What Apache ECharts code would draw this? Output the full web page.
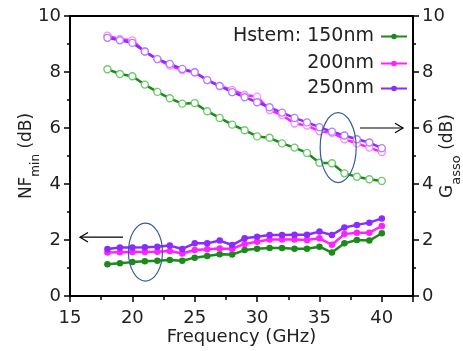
<!DOCTYPE html>
<html>
<head>
<meta charset="utf-8">
<script src="https://cdn.jsdelivr.net/npm/echarts@6/dist/echarts.min.js"></script>
<style>
  html, body { margin: 0; padding: 0; background: #fff; }
  #chart { width: 463px; height: 351px; }
</style>
</head>
<body>
<div id="chart"></div>
<script>
// frequency points (GHz)
const freq = [18, 19, 20, 21, 22, 23, 24, 25, 26, 27, 28, 29, 30, 31, 32, 33, 34, 35, 36, 37, 38, 39, 40]

// NFmin (dB), left axis
const nf150 = [1.13, 1.17, 1.21, 1.24, 1.26, 1.29, 1.26, 1.37, 1.43, 1.49, 1.48, 1.64, 1.69, 1.71, 1.71, 1.69, 1.69, 1.76, 1.55, 1.88, 2.00, 1.98, 2.24]
const nf200 = [1.55, 1.56, 1.57, 1.57, 1.58, 1.61, 1.52, 1.64, 1.67, 1.70, 1.68, 1.86, 1.94, 2.02, 2.02, 2.02, 2.00, 2.06, 1.83, 2.21, 2.26, 2.26, 2.50]
const nf250 = [1.68, 1.73, 1.73, 1.74, 1.76, 1.80, 1.68, 1.88, 1.88, 1.98, 1.82, 2.06, 2.12, 2.18, 2.18, 2.19, 2.19, 2.30, 2.18, 2.45, 2.54, 2.62, 2.77]

// Gasso (dB), right axis
const ga150 = [8.10, 7.93, 7.85, 7.55, 7.29, 7.06, 6.87, 6.89, 6.60, 6.36, 6.12, 5.92, 5.70, 5.65, 5.45, 5.30, 5.11, 4.76, 4.74, 4.38, 4.26, 4.17, 4.11]
const ga200 = [9.30, 9.17, 9.13, 8.73, 8.46, 8.23, 8.07, 7.99, 7.71, 7.50, 7.36, 7.18, 7.12, 6.64, 6.46, 6.16, 6.09, 5.88, 5.83, 5.60, 5.45, 5.30, 5.14]
const ga250 = [9.22, 9.13, 9.04, 8.73, 8.46, 8.29, 8.11, 7.99, 7.71, 7.50, 7.28, 7.10, 6.92, 6.74, 6.55, 6.36, 6.20, 6.03, 5.87, 5.73, 5.60, 5.48, 5.28]

const names = ['Hstem: 150nm', '200nm', '250nm']
const colors = ['#1B8A1B', '#FF22FF', '#8A2BFF']
const lightColors = ['#6CCB6C', '#FF8CFF', '#B47DFF']

const FONT = 'DejaVu Sans'
const pairs = (vals) => freq.map((f, i) => [f, vals[i]])

const chart = echarts.init(document.getElementById('chart'))

const nfSeries = [nf150, nf200, nf250].map((d, i) => ({
  name: names[i],
  type: 'line',
  yAxisIndex: 0,
  data: pairs(d),
  symbol: 'circle',
  symbolSize: 6.5,
  lineStyle: { width: 2.5, color: colors[i] },
  itemStyle: { color: colors[i] },
  z: 3
}))

const gaSeries = [ga150, ga200, ga250].map((d, i) => ({
  name: 'Gasso ' + i,
  type: 'line',
  yAxisIndex: 1,
  data: pairs(d),
  symbol: 'circle',
  symbolSize: 7,
  lineStyle: { width: 2.5, color: colors[i] },
  itemStyle: { color: '#fff', borderColor: lightColors[i], borderWidth: 1.4 },
  z: 3
}))

// one legend per row so the icons line up on the right
const legendTops = [27, 54, 79]
const legends = names.map((n, i) => ({
  data: [n],
  right: 55,
  top: legendTops[i],
  orient: 'vertical',
  align: 'right',
  padding: 0,
  itemWidth: 26,
  itemHeight: 7,
  selectedMode: false,
  textStyle: { fontFamily: FONT, fontSize: 19, color: '#222', padding: [0, 2, 0, 0] }
}))

const axisTextStyle = { fontFamily: FONT, fontSize: 18, color: '#222' }

const yAxisBase = {
  type: 'value',
  min: 0,
  max: 10,
  interval: 2,
  nameLocation: 'middle',
  nameRotate: 90,
  nameMoveOverlap: false,
  axisLine: { show: true, lineStyle: { color: '#000', width: 2 } },
  axisTick: { show: true, inside: false, length: 6, lineStyle: { color: '#000', width: 1.5 } },
  minorTick: { show: true, splitNumber: 2, length: 3, lineStyle: { color: '#000', width: 1.5 } },
  axisLabel: Object.assign({ margin: 9 }, axisTextStyle),
  splitLine: { show: false }
}

const option = {
  animation: false,
  backgroundColor: '#fff',
  grid: {
    left: 70, right: 50, top: 16, bottom: 55,
    outerBoundsMode: 'none',
    show: true, borderColor: '#000', borderWidth: 2, backgroundColor: 'transparent'
  },
  legend: legends,
  xAxis: {
    type: 'value',
    min: 15,
    max: 42.5,
    interval: 5,
    name: 'Frequency (GHz)',
    nameLocation: 'middle',
    nameGap: 32,
    nameMoveOverlap: false,
    nameTextStyle: axisTextStyle,
    axisLine: { show: true, onZero: false, lineStyle: { color: '#000', width: 2 } },
    axisTick: { show: true, length: 6, lineStyle: { color: '#000', width: 1.5 } },
    minorTick: { show: true, splitNumber: 2, length: 4, lineStyle: { color: '#000', width: 1.5 } },
    axisLabel: Object.assign({ margin: 13, showMaxLabel: false }, axisTextStyle),
    splitLine: { show: false }
  },
  yAxis: [
    Object.assign({}, yAxisBase, {
      position: 'left',
      name: '{a|NF}{b|min}{a| (dB)}',
      nameGap: 28,
      nameTextStyle: {
        rich: {
          a: { fontFamily: FONT, fontSize: 17, color: '#222', lineHeight: 30, verticalAlign: 'middle' },
          b: { fontFamily: FONT, fontSize: 12, color: '#222', verticalAlign: 'bottom' }
        }
      }
    }),
    Object.assign({}, yAxisBase, {
      position: 'right',
      name: '{a|G}{b|asso}{a| (dB)}',
      nameGap: 20,
      nameTextStyle: {
        rich: {
          a: { fontFamily: FONT, fontSize: 17, color: '#222', lineHeight: 30, verticalAlign: 'middle' },
          b: { fontFamily: FONT, fontSize: 13, color: '#222', verticalAlign: 'bottom' }
        }
      }
    })
  ],
  series: nfSeries.concat(gaSeries)
}

chart.setOption(option)

// annotations: ellipses around the groups and arrows to the axes
const px = (x, y) => chart.convertToPixel({ xAxisIndex: 0, yAxisIndex: 0 }, [x, y])
const arrow = (from, to, head) => {
  const a = px(from[0], from[1])
  const b = px(to[0], to[1])
  const dir = b[0] > a[0] ? 1 : -1
  return [
    { type: 'line', shape: { x1: a[0], y1: a[1], x2: b[0], y2: b[1] }, style: { stroke: '#000', lineWidth: 1.2 }, z: 10 },
    { type: 'polyline', shape: { points: [[b[0] - dir * head, b[1] - head * 0.6], [b[0], b[1]], [b[0] - dir * head, b[1] + head * 0.6]] },
      style: { stroke: '#000', lineWidth: 1.2, fill: null }, z: 10 }
  ]
}
const e1 = px(36.5, 5.3)
const e2 = px(21.05, 1.57)

chart.setOption({
  graphic: [
    { type: 'ellipse', shape: { cx: e1[0], cy: e1[1], rx: 18, ry: 35 }, style: { stroke: '#3A5A9C', lineWidth: 1.2, fill: null }, z: 10 },
    { type: 'ellipse', shape: { cx: e2[0], cy: e2[1], rx: 17, ry: 29 }, style: { stroke: '#3A5A9C', lineWidth: 1.2, fill: null }, z: 10 }
  ]
    .concat(arrow([38.25, 6.0], [41.7, 6.0], 8))
    .concat(arrow([19.25, 2.1], [15.8, 2.1], 8))
})
</script>
</body>
</html>
